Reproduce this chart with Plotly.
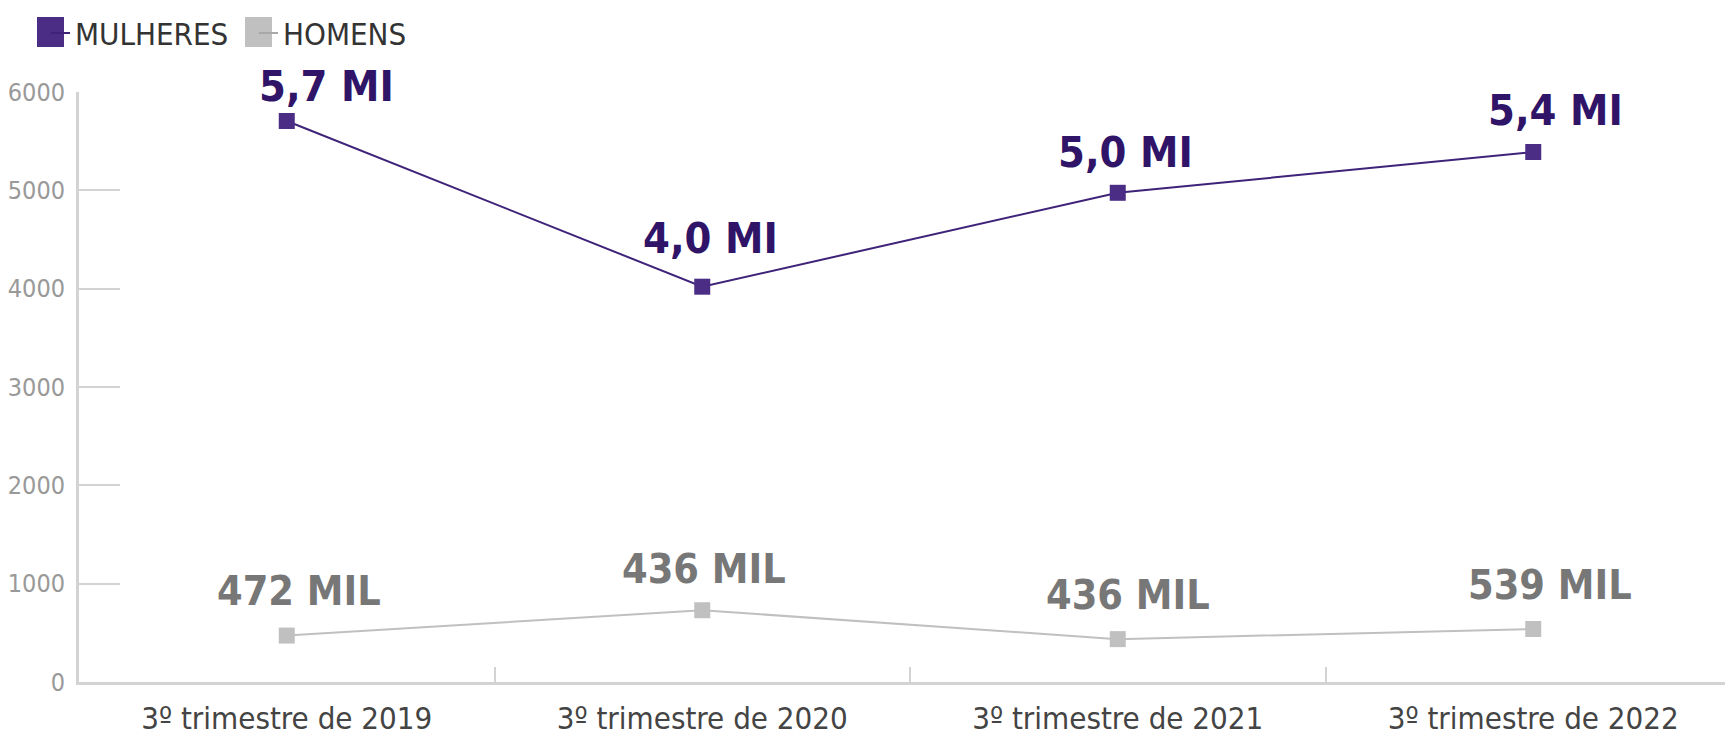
import plotly.graph_objects as go

categories = ["3º trimestre de 2019", "3º trimestre de 2020", "3º trimestre de 2021", "3º trimestre de 2022"]
mulheres = [5705, 4020, 4975, 5390]
homens = [472, 730, 436, 539]
mulheres_labels = ["5,7 MI", "4,0 MI", "5,0 MI", "5,4 MI"]
homens_labels = ["472 MIL", "436 MIL", "436 MIL", "539 MIL"]
y_ticks = [0, 1000, 2000, 3000, 4000, 5000, 6000]

# label offsets (pixels) - styling only
mul_off = [(40, 35), (8, 49), (8, 41), (22, 42)]
hom_off = [(12, 45), (2, 41), (10, 44), (17, 44)]

PURPLE = "#4b2d85"
PURPLE_LINE = "#3e2379"
PURPLE_TXT = "#2f1468"
GRAY = "#c0c0c0"
GRAY_TXT = "#777777"
AXIS = "#d3d3d3"
NARROW = "DejaVu Sans Condensed, Liberation Sans Narrow, sans-serif"

fig = go.Figure()
fig.add_trace(go.Scatter(
    x=categories, y=mulheres, mode="lines+markers", name="MULHERES",
    line=dict(color=PURPLE_LINE, width=2),
    marker=dict(symbol="square", size=16, color=PURPLE),
    showlegend=False, cliponaxis=False,
))
fig.add_trace(go.Scatter(
    x=categories, y=homens, mode="lines+markers", name="HOMENS",
    line=dict(color=GRAY, width=2),
    marker=dict(symbol="square", size=16, color=GRAY),
    showlegend=False, cliponaxis=False,
))

annotations = []
for i, (c, v, t) in enumerate(zip(categories, mulheres, mulheres_labels)):
    annotations.append(dict(x=c, y=v, text=t, showarrow=False, xanchor="center", yanchor="middle",
                            xshift=mul_off[i][0], yshift=mul_off[i][1],
                            font=dict(family=NARROW, size=43, color=PURPLE_TXT, weight="bold")))
for i, (c, v, t) in enumerate(zip(categories, homens, homens_labels)):
    annotations.append(dict(x=c, y=v, text=t, showarrow=False, xanchor="center", yanchor="middle",
                            xshift=hom_off[i][0], yshift=hom_off[i][1],
                            font=dict(family=NARROW, size=41, color=GRAY_TXT, weight="bold")))

# custom legend
annotations.append(dict(xref="paper", yref="paper", x=0, y=1, xshift=-6, yshift=58,
                        xanchor="left", yanchor="middle", showarrow=False, text="MULHERES",
                        font=dict(family=NARROW, size=31, color="#333333")))
annotations.append(dict(xref="paper", yref="paper", x=0, y=1, xshift=202, yshift=58,
                        xanchor="left", yanchor="middle", showarrow=False, text="HOMENS",
                        font=dict(family=NARROW, size=31, color="#333333")))

shapes = [
    dict(type="rect", xref="paper", yref="paper", xsizemode="pixel", ysizemode="pixel",
         xanchor=0, yanchor=1, x0=-42, x1=-15, y0=45, y1=75, fillcolor=PURPLE, line=dict(width=0)),
    dict(type="line", xref="paper", yref="paper", xsizemode="pixel", ysizemode="pixel",
         xanchor=0, yanchor=1, x0=-28, x1=-9, y0=59, y1=59, line=dict(color=PURPLE_LINE, width=2)),
    dict(type="rect", xref="paper", yref="paper", xsizemode="pixel", ysizemode="pixel",
         xanchor=0, yanchor=1, x0=166, x1=193, y0=45, y1=75, fillcolor=GRAY, line=dict(width=0)),
    dict(type="line", xref="paper", yref="paper", xsizemode="pixel", ysizemode="pixel",
         xanchor=0, yanchor=1, x0=180, x1=199, y0=59, y1=59, line=dict(color="#a8a8a8", width=2)),
]

fig.update_layout(
    width=1733, height=735,
    margin=dict(l=69, r=0, t=84, b=61),
    plot_bgcolor="white", paper_bgcolor="white",
    annotations=annotations, shapes=shapes,
    xaxis=dict(
        type="category", range=[-0.5, 3.5],
        showline=True, linecolor=AXIS, linewidth=3,
        showgrid=False, zeroline=False,
        ticks="inside", tickson="boundaries", ticklen=15, tickcolor=AXIS, tickwidth=2,
        tickfont=dict(family=NARROW, size=31, color="#444444"),
        ticklabelstandoff=7,
    ),
    yaxis=dict(
        range=[0, 6000], tickvals=y_ticks,
        showline=True, linecolor=AXIS, linewidth=3,
        showgrid=False, zeroline=False,
        ticks="inside", ticklen=41, tickcolor=AXIS, tickwidth=2,
        tickfont=dict(family=NARROW, size=25, color="#999999"),
        ticklabelstandoff=6,
    ),
)

fig.write_html("out.html")
